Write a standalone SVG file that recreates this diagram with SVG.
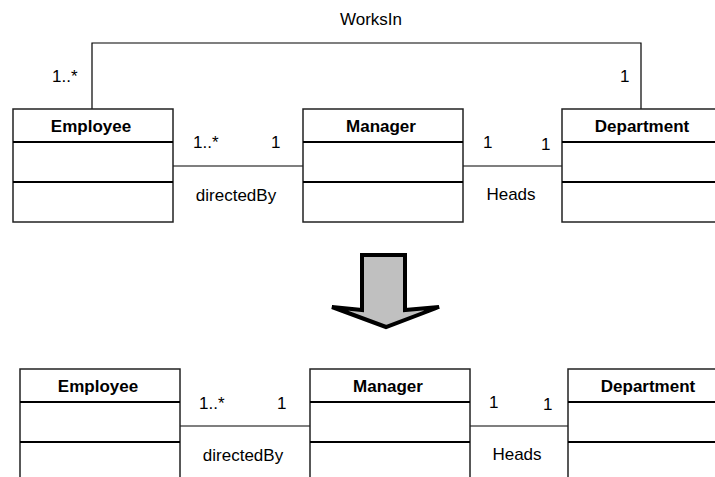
<svg xmlns="http://www.w3.org/2000/svg" width="715" height="477" viewBox="0 0 715 477">
<style>
.box{fill:#fff;stroke:#222;stroke-width:1.5}
.sep{stroke:#000;stroke-width:2.2}
.name{font-family:"Liberation Sans",Arial,sans-serif;font-size:17px;font-weight:bold;fill:#000;text-anchor:middle}
.lbl{font-family:"Liberation Sans",Arial,sans-serif;font-size:17px;fill:#000}
.mid{text-anchor:middle}
.assoc{fill:none;stroke:#000;stroke-width:1.2}
</style>
<rect width="715" height="477" fill="#fff"/>
<g id="connectors">
<polyline class="assoc" points="92,109 92,43 641,43 641,109"/>
<line class="assoc" x1="173" y1="166" x2="303" y2="166"/>
<line class="assoc" x1="463" y1="166" x2="562" y2="166"/>
<line class="assoc" x1="180" y1="426" x2="310" y2="426"/>
<line class="assoc" x1="470" y1="426" x2="568" y2="426"/>
<text class="lbl mid" x="371" y="25">WorksIn</text>
<text class="lbl" x="52" y="82">1..*</text>
<text class="lbl" x="620" y="82">1</text>
<text class="lbl" x="193" y="148">1..*</text>
<text class="lbl" x="271" y="148">1</text>
<text class="lbl mid" x="236" y="201">directedBy</text>
<text class="lbl" x="483" y="148">1</text>
<text class="lbl" x="541" y="150">1</text>
<text class="lbl mid" x="511" y="200">Heads</text>
<text class="lbl" x="199" y="409">1..*</text>
<text class="lbl" x="277" y="409">1</text>
<text class="lbl mid" x="243" y="461">directedBy</text>
<text class="lbl" x="489" y="408">1</text>
<text class="lbl" x="543" y="410">1</text>
<text class="lbl mid" x="517" y="460">Heads</text>
</g>
<g id="employee1">
<rect class="box" x="13" y="109" width="160" height="113"/>
<line class="sep" x1="13" y1="142" x2="173" y2="142"/>
<line class="sep" x1="13" y1="182" x2="173" y2="182"/>
<text class="name" x="91" y="132">Employee</text>
</g>
<g id="manager1">
<rect class="box" x="303" y="109" width="160" height="113"/>
<line class="sep" x1="303" y1="142" x2="463" y2="142"/>
<line class="sep" x1="303" y1="182" x2="463" y2="182"/>
<text class="name" x="381" y="132">Manager</text>
</g>
<g id="department1">
<rect class="box" x="562" y="109" width="160" height="113"/>
<line class="sep" x1="562" y1="142" x2="722" y2="142"/>
<line class="sep" x1="562" y1="182" x2="722" y2="182"/>
<text class="name" x="642" y="132">Department</text>
</g>
<g id="transform-arrow">
<polygon points="362,255 405,255 405,310 439,307 386,327 332,307 362,310" fill="#c0c0c0" stroke="#000" stroke-width="4" stroke-linejoin="miter"/>
</g>
<g id="employee2">
<rect class="box" x="20" y="369" width="160" height="113"/>
<line class="sep" x1="20" y1="402" x2="180" y2="402"/>
<line class="sep" x1="20" y1="442" x2="180" y2="442"/>
<text class="name" x="98" y="392">Employee</text>
</g>
<g id="manager2">
<rect class="box" x="310" y="369" width="160" height="113"/>
<line class="sep" x1="310" y1="402" x2="470" y2="402"/>
<line class="sep" x1="310" y1="442" x2="470" y2="442"/>
<text class="name" x="388" y="392">Manager</text>
</g>
<g id="department2">
<rect class="box" x="568" y="369" width="160" height="113"/>
<line class="sep" x1="568" y1="402" x2="728" y2="402"/>
<line class="sep" x1="568" y1="442" x2="728" y2="442"/>
<text class="name" x="648" y="392">Department</text>
</g>
</svg>
